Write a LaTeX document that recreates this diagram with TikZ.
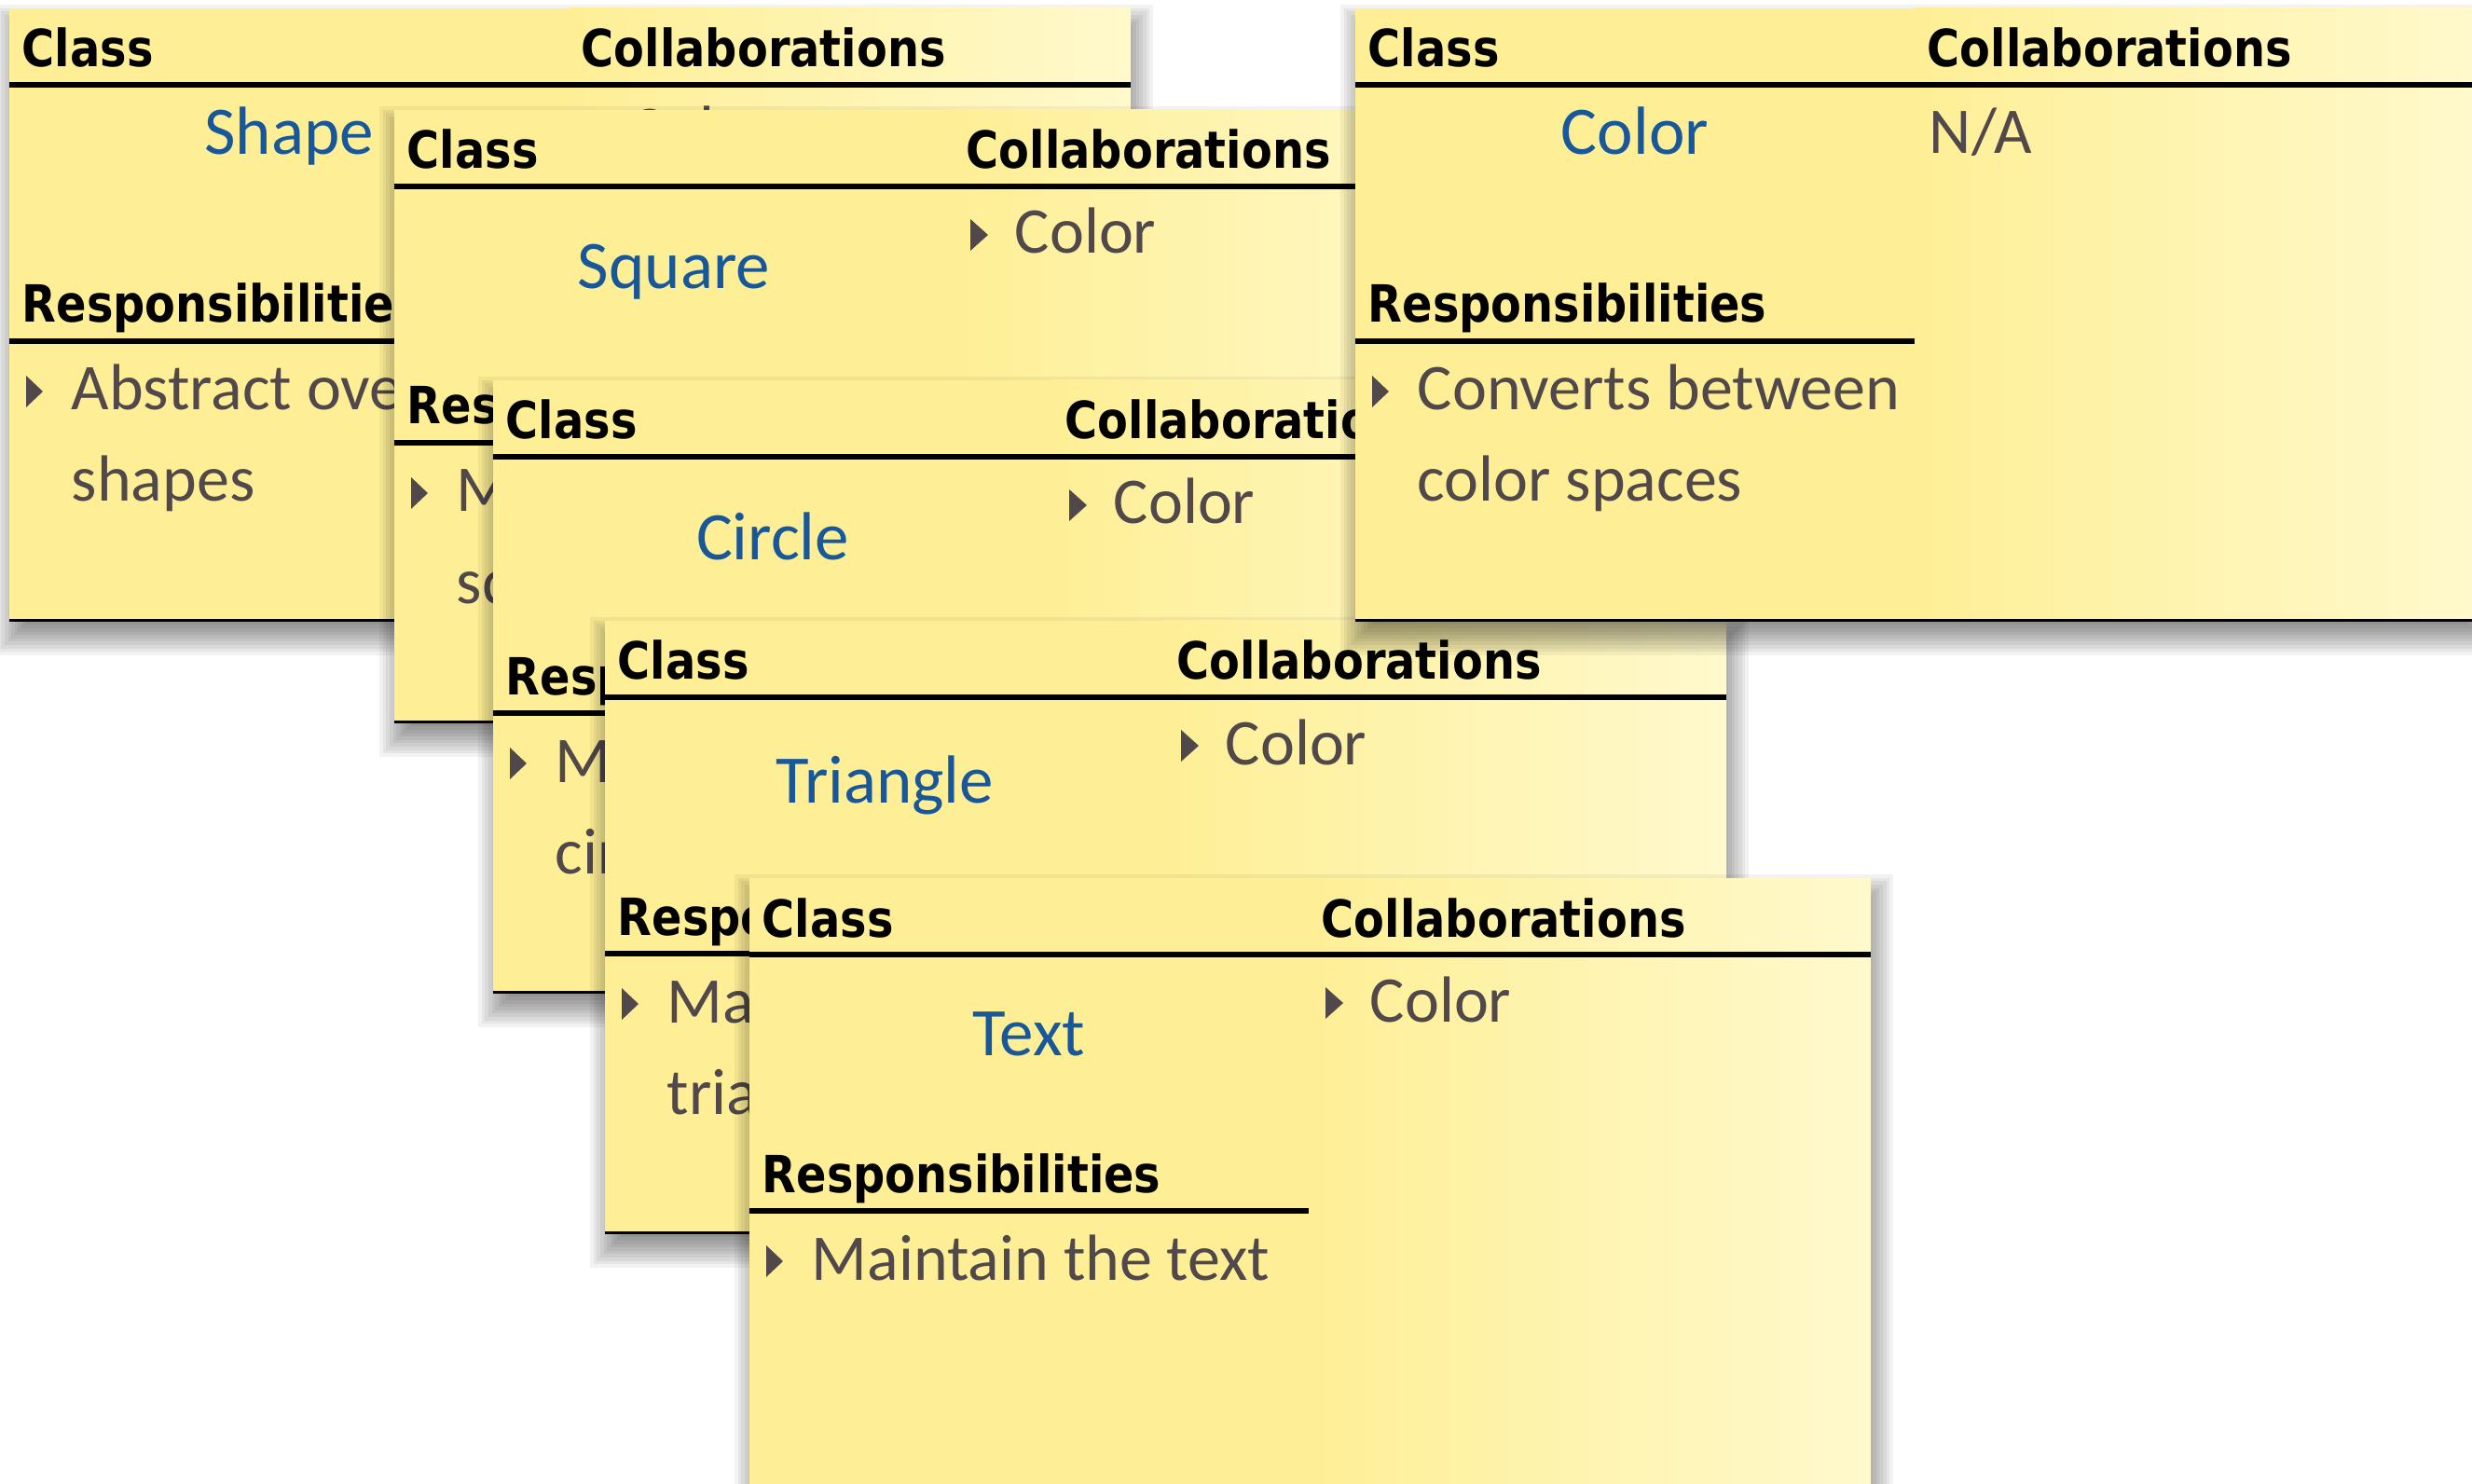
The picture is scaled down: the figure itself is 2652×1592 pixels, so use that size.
\documentclass[tikz,border=0pt]{standalone}
\usepackage{fontspec}
\newfontfamily\hdrfont[FakeStretch=0.87]{DejaVu Sans}
\newfontfamily\handfont{Carlito}
\definecolor{cardyellow}{RGB}{254,239,150}
\definecolor{cardlight}{RGB}{255,249,204}
\definecolor{nameblue}{RGB}{24,88,154}
\definecolor{itemgray}{RGB}{80,72,74}
\tikzset{
  hdr/.style={anchor=base west, inner sep=0pt, font=\hdrfont\bfseries\fontsize{13.75pt}{16pt}\selectfont},
  cname/.style={anchor=base, inner sep=0pt, text=nameblue, font=\handfont\fontsize{18.25pt}{22pt}\selectfont},
  itemtxt/.style={anchor=base west, inner sep=0pt, text=itemgray, font=\handfont\fontsize{17.5pt}{21pt}\selectfont},
  bulletmark/.style={fill=itemgray},
  hrule/.style={draw=black, line width=1.7pt},
}
\newcommand\collitem[2]{%
  \fill[bulletmark] (618,117) -- (637,134) -- (618,151) -- cycle;
  \node[itemtxt] (#1) at (665,154) {#2};}
\newcommand\respitem[3]{%
  \fill[bulletmark] (18,394) -- (36,411) -- (18,428) -- cycle;
  \node[itemtxt] (#1a) at (66,431) {#2};
  \node[itemtxt] (#1b) at (66,529) {#3};}
\newcommand\respone[2]{%
  \fill[bulletmark] (18,394) -- (36,411) -- (18,428) -- cycle;
  \node[itemtxt] (#1) at (66,431) {#2};}
\newcommand\crccard[6]{%
  \begin{scope}[shift={(#2,#3)}]
    \foreach \k in {0,...,11}{%
      \pgfmathsetmacro\xa{-16+\k*40/11}%
      \pgfmathsetmacro\ya{-4+\k*40/11}%
      \pgfmathsetmacro\xb{1227-\k*40/11}%
      \pgfmathsetmacro\yb{694-\k*40/11}%
      \fill[black,opacity=0.05] (\xa,\ya) rectangle (\xb,\yb);
    }
    \fill[cardyellow] (0,0) rectangle (602,658);
    \shade[left color=cardyellow,right color=cardlight] (600,0) rectangle (1203,658);
    \node[hdr] (#1-class) at (13,63) {Class};
    \node[hdr] (#1-collab) at (613,63) {Collaborations};
    \draw[hrule] (0,82) -- (1203,82);
    \node[cname] (#1-name) at (300,#5) {#4};
    \node[hdr] (#1-resp) at (13,337) {Responsibilities};
    \draw[hrule, line width=1.3pt] (0,357) -- (600,357);
    \draw[black, line width=0.75pt] (0,656.5) -- (1203,656.5);
    #6
  \end{scope}}
\begin{document}
\begin{tikzpicture}[x=0.25pt,y=-0.25pt]
  \fill[white] (0,0) rectangle (2652,1592);
  \useasboundingbox (0,0) rectangle (2652,1592);
  \crccard{shape}{10}{9}{Shape}{157}{\collitem{shape-c1}{Color}\respitem{shape-r1}{Abstract over}{shapes}}
  \crccard{square}{423}{118}{Square}{192}{\collitem{square-c1}{Color}\respitem{square-r1}{Maintain the}{square}}
  \crccard{circle}{529}{408}{Circle}{192}{\collitem{circle-c1}{Color}\respitem{circle-r1}{Maintain the}{circle}}
  \crccard{triangle}{649}{666}{Triangle}{195}{\collitem{triangle-c1}{Color}\respitem{triangle-r1}{Maintain the}{triangle}}
  \crccard{text}{804}{942}{Text}{190}{\collitem{text-c1}{Color}\respone{text-r1}{Maintain the text}}
  \crccard{color}{1454}{9}{Color}{157}{\node[itemtxt] (color-na) at (615,156) {N/A};\respitem{color-r1}{Converts between}{color spaces}}
\end{tikzpicture}
\end{document}
